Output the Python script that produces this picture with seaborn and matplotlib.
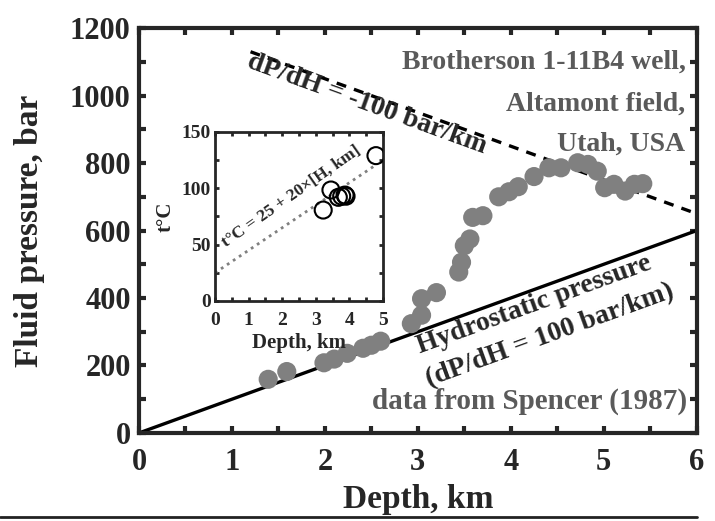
import numpy as np
import pandas as pd
import matplotlib.pyplot as plt
import seaborn as sns
from matplotlib.lines import Line2D
from matplotlib.ticker import MultipleLocator

# fluid pressure vs depth, Brotherson 1-11B4 well
depth_km = [1.39, 1.59, 1.99, 2.10, 2.24, 2.41, 2.50, 2.60, 2.93, 3.04, 3.04, 3.20,
            3.44, 3.47, 3.50, 3.56, 3.59, 3.70, 3.87, 3.98, 4.08, 4.25, 4.41, 4.54,
            4.72, 4.83, 4.93, 5.01, 5.11, 5.23, 5.33, 5.42]
pressure_bar = [159, 182, 208, 219, 236, 251, 260, 272, 324, 349, 398, 416,
                477, 506, 555, 575, 639, 644, 700, 715, 730, 760, 786, 786,
                801, 796, 776, 727, 737, 717, 737, 739]

# temperature inset
t_depth_km = [4.79, 3.45, 3.22, 3.67, 3.77, 3.87, 3.90]
t_degC = [129, 98.5, 80.7, 92, 93, 94, 93]

# reference lines
hydro_x = [0, 6]
hydro_y = [0, 600]
grad_x = [1.2, 6]
grad_y = [1130, 650]
fit_x = [0, 4.8]
fit_y = [25, 121]

sns.set_style("ticks")
plt.rcParams['font.family'] = ['Liberation Serif', 'DejaVu Serif']
plt.rcParams['font.weight'] = 'bold'
plt.rcParams['axes.labelweight'] = 'bold'

fig = plt.figure(figsize=(7.15, 5.21), dpi=100)
ax = fig.add_axes([0.1944, 0.169, 0.78, 0.777])

main = pd.DataFrame({'depth': depth_km, 'pressure': pressure_bar})
sns.lineplot(x=hydro_x, y=hydro_y, color='black', lw=2.4, ax=ax)
sns.lineplot(x=grad_x, y=grad_y, color='black', lw=2.4, ax=ax, linestyle=(0, (3, 2.5)))
sns.scatterplot(data=main, x='depth', y='pressure', color='#808080', s=190,
                edgecolor='none', ax=ax, zorder=3)

ax.set_xlim(0, 6)
ax.set_ylim(0, 1200)
ax.xaxis.set_major_locator(MultipleLocator(1))
ax.xaxis.set_minor_locator(MultipleLocator(0.5))
ax.yaxis.set_major_locator(MultipleLocator(200))
ax.yaxis.set_minor_locator(MultipleLocator(100))
ax.tick_params(which='both', direction='in', top=True, right=True, length=5, width=3,
               labelsize=22, pad=6)
ax.tick_params(axis='x', pad=11)
for s in ax.spines.values():
    s.set_linewidth(3)
ax.set_xlabel('Depth, km', fontsize=24, labelpad=5)
ax.set_ylabel('Fluid pressure, bar', fontsize=24, labelpad=18)

gray = '#5a5a5a'
ax.text(5.88, 1100, 'Brotherson 1-11B4 well,', color=gray, fontsize=20, ha='right', va='center')
ax.text(5.88, 976, 'Altamont field,', color=gray, fontsize=20, ha='right', va='center')
ax.text(5.88, 855, 'Utah, USA', color=gray, fontsize=20, ha='right', va='center')
ax.text(5.9, 94, 'data from Spencer (1987)', color=gray, fontsize=21, ha='right', va='center')
ax.text(2.45, 975, 'dP/dH = -100 bar/km', fontsize=20, rotation=-20,
        ha='center', va='center', rotation_mode='anchor', zorder=4)
ax.text(4.25, 380, 'Hydrostatic pressure', fontsize=20, rotation=20,
        ha='center', va='center', rotation_mode='anchor')
ax.text(4.42, 288, '(dP/dH = 100 bar/km)', fontsize=20, rotation=20,
        ha='center', va='center', rotation_mode='anchor')

# inset
ins = fig.add_axes([0.3007, 0.4223, 0.235, 0.3244])
inset = pd.DataFrame({'depth': t_depth_km, 'temp': t_degC})
sns.lineplot(x=fit_x, y=fit_y, color='#808080', lw=2, linestyle=(0, (1, 1.6)), ax=ins)
sns.scatterplot(data=inset, x='depth', y='temp', s=150, facecolor='none',
                edgecolor='black', linewidth=1.5, ax=ins, zorder=3)
ins.set_xlim(0, 5)
ins.set_ylim(0, 150)
ins.xaxis.set_major_locator(MultipleLocator(1))
ins.xaxis.set_minor_locator(MultipleLocator(0.5))
ins.yaxis.set_major_locator(MultipleLocator(50))
ins.yaxis.set_minor_locator(MultipleLocator(25))
ins.tick_params(which='both', direction='in', top=True, right=True, length=3, width=2,
                labelsize=14, pad=3)
ins.tick_params(axis='x', pad=8)
for s in ins.spines.values():
    s.set_linewidth(2)
ins.set_xlabel('Depth, km', fontsize=15, labelpad=3)
ins.set_ylabel('t°C', fontsize=15, labelpad=4)
ins.text(2.26, 93, 't°C = 25 + 20×[H, km]', fontsize=12.5, rotation=35,
         ha='center', va='center', rotation_mode='anchor')

fig.add_artist(Line2D([0, 0.975], [0.008, 0.008], color='#222222', lw=2,
                      transform=fig.transFigure))

fig.savefig('out.png', dpi=100)
